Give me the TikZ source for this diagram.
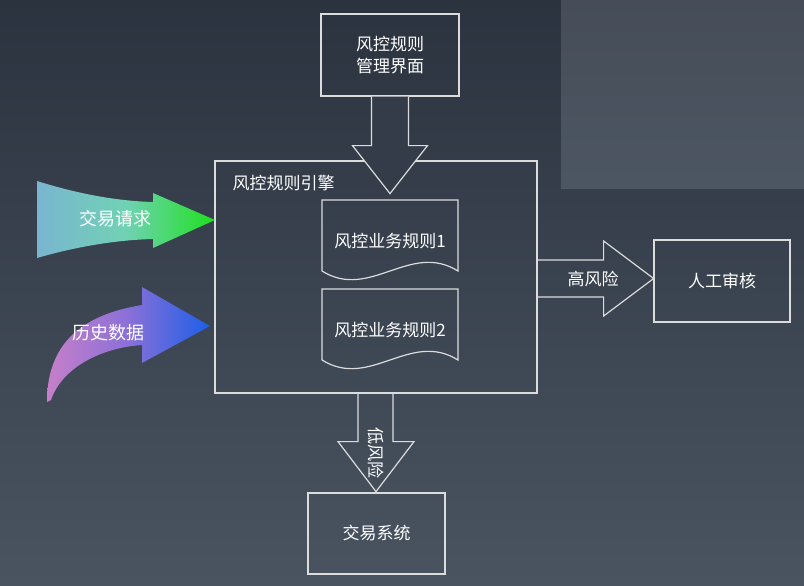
\documentclass[tikz,border=0pt]{standalone}
\usepackage{fontspec}
\setmainfont{Noto Sans CJK SC}

\definecolor{bgtop}{HTML}{2B333F}
\definecolor{bgbot}{HTML}{4A5461}
\definecolor{paneltop}{HTML}{464D58}
\definecolor{panelbot}{HTML}{4C5662}
\definecolor{edge}{HTML}{DCDCDC}
\definecolor{reqleft}{HTML}{7AB5D0}
\definecolor{reqmid}{HTML}{70D2B4}
\definecolor{reqright}{HTML}{1FE01F}
\definecolor{histleft}{HTML}{C67FC9}
\definecolor{histmid}{HTML}{8A70D8}
\definecolor{histright}{HTML}{1C5FE8}

\newcommand{\rulepage}[1]{\draw[outline, shift={(#1)}] (-68,30) -- (-68,-41) -- (68,-41) -- (68,30) .. controls (20,0) and (-20,60) .. (-68,30);}

\begin{document}
\begin{tikzpicture}[x=1pt,y=-1pt,
		outline/.style={draw=edge, line width=1.2pt},
		txt/.style={text=white, font=\fontsize{17}{22}\selectfont},
		box/.style={outline, txt, align=center},
		flowtxt/.style={text=white, font=\fontsize{18}{20}\selectfont}]
		\useasboundingbox (0,0) rectangle (804,586);
		\shade[top color=bgtop, bottom color=bgbot] (0,0) rectangle (804,586);
		\shade[top color=paneltop, bottom color=panelbot] (561,0) rectangle (804,188);
		
		\node[box, minimum width=138, minimum height=82] (mgmt) at (390,55) {风控规则\\管理界面};
		\node[outline, minimum width=322, minimum height=232] (engine) at (376,277) {};
		\node[txt, anchor=west] (enginetitle) at (229,183) {风控规则引擎};
		
		\node[txt] (doc1) at (390,241) {风控业务规则1};
		\rulepage{doc1}
		\node[txt] (doc2) at (390,330) {风控业务规则2};
		\rulepage{doc2}
		
		\node[box, minimum width=136, minimum height=82] (audit) at (722,281) {人工审核};
		\node[box, minimum width=137, minimum height=81] (trade) at (376.5,533.5) {交易系统};
		
		\filldraw[outline, fill=bgbot!27!bgtop, shift={(mgmt.south)}] (-18.5,0) -- (-18.5,49) -- (-37.5,49) -- (0,97) -- (37.5,49) -- (18.5,49) -- (18.5,0);
		
		\draw[outline, shift={(engine.east)}] (0,-17) -- (66,-17) -- (66,-36) -- (116,1.5) -- (66,39) -- (66,20) -- (0,20);
		\node[txt] (highlbl) at (593,279) {高风险};
		
		\draw[outline, shift={(engine.south)}] (-18,0) -- (-18,48) -- (-38,48) -- (0,98) -- (38,48) -- (17,48) -- (17,0);
		\node[txt, rotate=-90] (lowlbl) at (376,453) {低风险};
		
		\shade[left color=reqleft, right color=reqright, middle color=reqmid] (37,181) .. controls (75,193) and (115,201) .. (153,202) -- (153,193) -- (215,220) -- (153,248) -- (153,239) .. controls (115,240) and (75,247) .. (37,258) -- cycle;
		\node[flowtxt] (reqtxt) at (115,219) {交易请求};
		
		\shade[left color=histleft, right color=histright, middle color=histmid] (47,402) .. controls (47,345) and (80,315) .. (142,305) -- (142,287) -- (210,326) -- (142,363) -- (142,345) .. controls (100,348) and (62,368) .. (51,400) -- cycle;
		\node[flowtxt] (histtxt) at (108,333) {历史数据};
		
		\end{tikzpicture}
\end{document}
